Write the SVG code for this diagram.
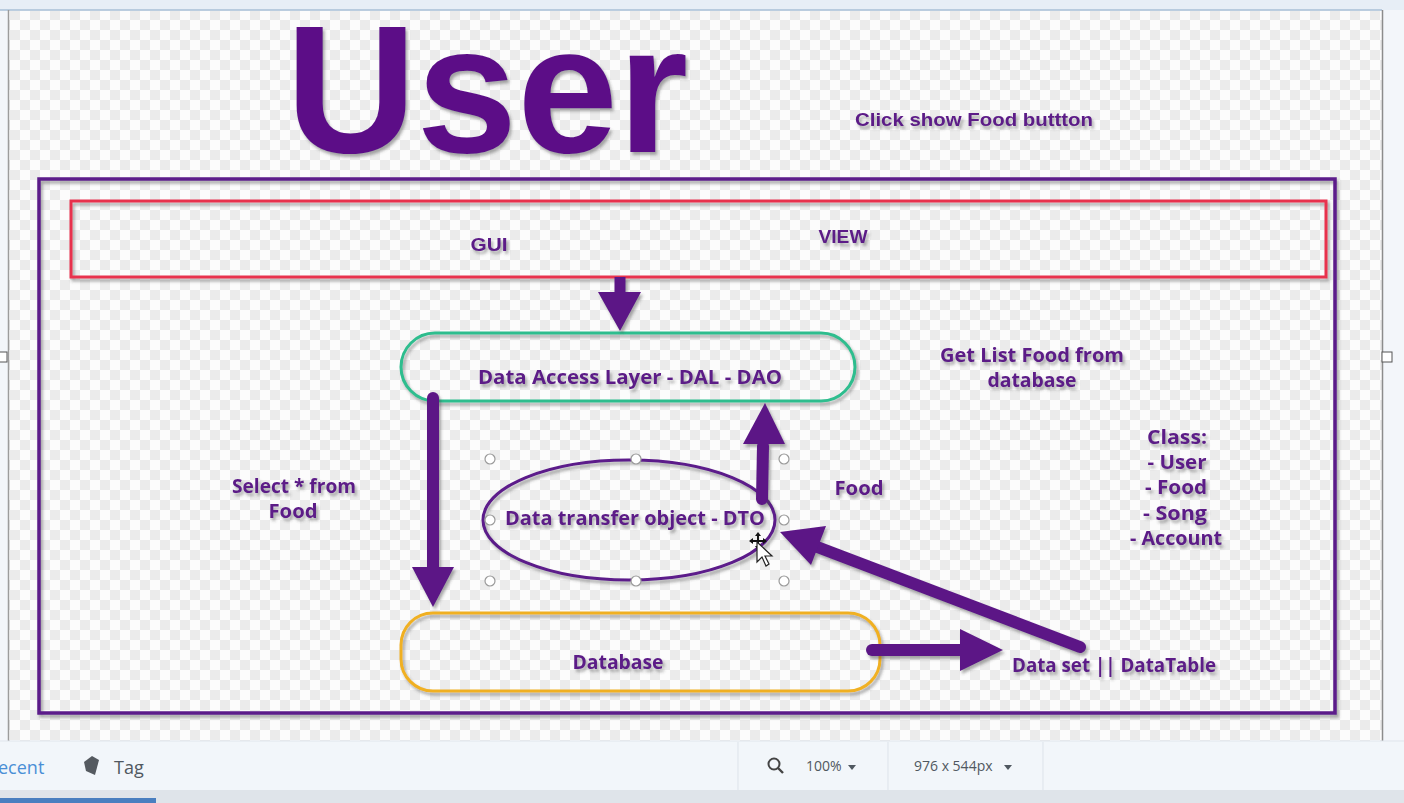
<svg xmlns="http://www.w3.org/2000/svg" width="1404" height="803" viewBox="0 0 1404 803">
<defs>
<pattern id="checker" width="20" height="20" patternUnits="userSpaceOnUse">
<rect width="20" height="20" fill="#fcfcfc"/>
<rect width="10" height="10" fill="#ebebeb"/>
<rect x="10" y="10" width="10" height="10" fill="#ebebeb"/>
</pattern>
<filter id="sh" x="-10%" y="-30%" width="120%" height="160%">
<feDropShadow dx="2" dy="3" stdDeviation="1.6" flood-color="#444" flood-opacity="0.45"/>
</filter>
<marker id="ah" viewBox="0 0 10 10" refX="10" refY="5" markerWidth="3.4" markerHeight="3.4" orient="auto" markerUnits="strokeWidth">
<path d="M0,0 L10,5 L0,10 z" fill="#5b1586"/>
</marker>
</defs>
<style>
.lbl{font-family:"Open Sans","DejaVu Sans",sans-serif;font-weight:bold;font-size:19px;fill:#5b1a87;text-anchor:middle}
.arl{font-family:"Liberation Sans",Arial,sans-serif;font-weight:bold;font-size:19px;fill:#5b1a87;text-anchor:middle}
.conn{stroke:#5b1586;stroke-width:12;fill:none;stroke-linecap:round}
.head{fill:#5b1586}
.ui{font-family:"Open Sans","Liberation Sans",sans-serif}
.hdl{fill:#ffffff;stroke:#9a9a9a;stroke-width:1.2}
</style>

<!-- app chrome -->
<rect x="0" y="0" width="1404" height="803" fill="#f3f6fa"/>
<rect x="0" y="0" width="1404" height="10" fill="#e7eef6"/>
<line x1="0" y1="10" x2="1382" y2="10" stroke="#a8bfd6" stroke-width="1.5"/>
<rect x="9" y="11" width="1373" height="730" fill="url(#checker)"/>
<line x1="8.5" y1="10" x2="8.5" y2="741" stroke="#9c9c9c" stroke-width="1.5"/>
<line x1="1382.5" y1="10" x2="1382.5" y2="741" stroke="#8c8c8c" stroke-width="1.5"/>
<rect x="-1" y="352" width="8" height="10" fill="#ffffff" stroke="#555" stroke-width="1"/>
<rect x="1382" y="352" width="10" height="10" fill="#ffffff" stroke="#555" stroke-width="1"/>
<rect x="0" y="741" width="1404" height="49" fill="#f2f6fa"/>
<line x1="0" y1="741" x2="1404" y2="741" stroke="#dfe5ec" stroke-width="1"/>
<rect x="0" y="790" width="1404" height="13" fill="#dfe4ea"/>
<rect x="0" y="798" width="156" height="5" fill="#4a7fc0"/>
<line x1="738" y1="742" x2="738" y2="790" stroke="#dde3ea" stroke-width="1"/>
<line x1="888" y1="742" x2="888" y2="790" stroke="#dde3ea" stroke-width="1"/>
<line x1="1043" y1="742" x2="1043" y2="790" stroke="#dde3ea" stroke-width="1"/>
<text x="-2" y="774" class="ui" font-size="18" fill="#4a8fd6">ecent</text>
<path d="M84,762 L92,756 L99,760 L95,775 L86,771 z" fill="#555a60"/>
<text x="114" y="774" class="ui" font-size="18" fill="#505860">Tag</text>
<circle cx="774" cy="764" r="5.5" fill="none" stroke="#444" stroke-width="2"/>
<line x1="778" y1="768" x2="783" y2="773" stroke="#444" stroke-width="2.4"/>
<text x="806" y="771" class="ui" font-size="14" fill="#505860">100%</text>
<path d="M848,765 L856,765 L852,770 z" fill="#505860"/>
<text x="914" y="771" class="ui" font-size="14" fill="#505860">976 x 544px</text>
<path d="M1004,765 L1012,765 L1008,770 z" fill="#505860"/>

<!-- title -->
<g id="title">
<text x="487" y="152" font-family="Liberation Sans, Arial, sans-serif" font-weight="bold" font-size="181" fill="#5b1187" text-anchor="middle" filter="url(#sh)">User</text>
</g>
<g id="note-click">
<text x="974" y="126" class="arl" filter="url(#sh)" textLength="238" lengthAdjust="spacingAndGlyphs">Click show Food buttton</text>
</g>

<!-- outer container -->
<g id="container">
<rect x="39" y="179" width="1296" height="534" fill="none" stroke="#5b1a8a" stroke-width="3.5" filter="url(#sh)"/>
</g>

<!-- GUI / VIEW -->
<g id="view">
<rect x="71" y="201" width="1255" height="76" fill="none" stroke="#e8304e" stroke-width="3" filter="url(#sh)"/>
<text x="489" y="251" class="arl" filter="url(#sh)" textLength="37" lengthAdjust="spacingAndGlyphs">GUI</text>
<text x="843" y="243" class="arl" filter="url(#sh)" textLength="49" lengthAdjust="spacingAndGlyphs">VIEW</text>
</g>

<!-- DAL -->
<g id="dal">
<rect x="401" y="333" width="454" height="68" rx="34" ry="34" fill="none" stroke="#2ebd8e" stroke-width="3" filter="url(#sh)"/>
<text x="630" y="384" class="lbl" filter="url(#sh)" textLength="304" lengthAdjust="spacingAndGlyphs">Data Access Layer - DAL - DAO</text>
</g>

<!-- DTO -->
<g id="dto">
<ellipse cx="629" cy="520" rx="146" ry="60" fill="none" stroke="#5b1a8a" stroke-width="3" filter="url(#sh)"/>
<text x="635" y="525" class="lbl" filter="url(#sh)" textLength="260" lengthAdjust="spacingAndGlyphs">Data transfer object - DTO</text>
<circle class="hdl" cx="490" cy="459" r="5"/>
<circle class="hdl" cx="636" cy="459" r="5"/>
<circle class="hdl" cx="784" cy="459" r="5"/>
<circle class="hdl" cx="490" cy="520" r="5"/>
<circle class="hdl" cx="784" cy="520" r="5"/>
<circle class="hdl" cx="490" cy="581" r="5"/>
<circle class="hdl" cx="636" cy="581" r="5"/>
<circle class="hdl" cx="784" cy="581" r="5"/>
</g>

<!-- Database -->
<g id="database">
<rect x="401" y="613" width="479" height="78" rx="32" ry="32" fill="none" stroke="#f0b023" stroke-width="3" filter="url(#sh)"/>
<text x="618" y="669" class="lbl" filter="url(#sh)" textLength="91" lengthAdjust="spacingAndGlyphs">Database</text>
</g>

<!-- Dataset -->
<g id="dataset">
<text x="1114" y="672" class="lbl" filter="url(#sh)" textLength="204" lengthAdjust="spacingAndGlyphs">Data set || DataTable</text>
</g>

<!-- notes -->
<g id="note-getlist">
<text x="1032" y="362" class="lbl" filter="url(#sh)" textLength="184" lengthAdjust="spacingAndGlyphs">Get List Food from</text>
<text x="1032" y="387" class="lbl" filter="url(#sh)" textLength="89" lengthAdjust="spacingAndGlyphs">database</text>
</g>
<g id="note-select">
<text x="294" y="493" class="lbl" filter="url(#sh)" textLength="124" lengthAdjust="spacingAndGlyphs">Select * from</text>
<text x="293" y="518" class="lbl" filter="url(#sh)" textLength="49" lengthAdjust="spacingAndGlyphs">Food</text>
</g>
<g id="note-food">
<text x="859" y="495" class="lbl" filter="url(#sh)" textLength="49" lengthAdjust="spacingAndGlyphs">Food</text>
</g>
<g id="note-class">
<text x="1177" y="444" class="lbl" filter="url(#sh)" textLength="60" lengthAdjust="spacingAndGlyphs">Class:</text>
<text x="1177" y="469" class="lbl" filter="url(#sh)" textLength="59" lengthAdjust="spacingAndGlyphs">- User</text>
<text x="1176" y="494" class="lbl" filter="url(#sh)" textLength="62" lengthAdjust="spacingAndGlyphs">- Food</text>
<text x="1175" y="520" class="lbl" filter="url(#sh)" textLength="64" lengthAdjust="spacingAndGlyphs">- Song</text>
<text x="1176" y="545" class="lbl" filter="url(#sh)" textLength="92" lengthAdjust="spacingAndGlyphs">- Account</text>
</g>

<!-- connectors -->
<g id="connectors" filter="url(#sh)">
<!-- GUI -> DAL -->
<line x1="620" y1="277" x2="620" y2="294" stroke="#5b1586" stroke-width="11"/>
<path class="head" d="M598,292 L641,292 L620,331 z"/>
<!-- DAL -> Database -->
<line class="conn" x1="433" y1="398" x2="433" y2="570"/>
<path class="head" d="M412,567 L454,567 L433,607 z"/>
<!-- DTO -> DAL -->
<line class="conn" x1="762" y1="499" x2="763" y2="446"/>
<path class="head" d="M743,444 L785,444 L765,403 z"/>
<!-- Database -> Dataset -->
<line class="conn" x1="872" y1="650" x2="962" y2="650"/>
<path class="head" d="M960,629 L1003,650 L960,671 z"/>
<!-- Dataset -> DTO -->
<line class="conn" x1="1080" y1="647" x2="812" y2="545"/>
<path class="head" d="M826,526 L780,532 L811,565 z"/>
</g>

<!-- mouse cursor -->
<g id="cursor">
<path d="M751,541 L765,541 M758,534 L758,548" stroke="#111" stroke-width="2"/>
<path d="M749,541 L753,538 L753,544 z M767,541 L763,538 L763,544 z M758,532 L755,536 L761,536 z M758,550 L755,546 L761,546 z" fill="#111"/>
<path d="M757,542 L757,562 L762,557 L766,566 L769,564 L765,556 L772,556 z" fill="#ffffff" stroke="#222" stroke-width="1.2"/>
</g>
</svg>
